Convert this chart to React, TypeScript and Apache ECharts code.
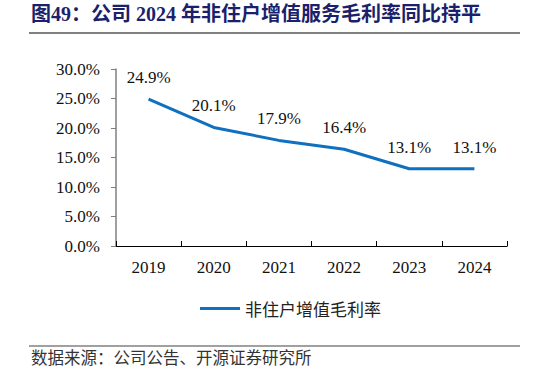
import React, { useEffect, useRef } from "react";
import * as echarts from "echarts";

const categories = ["2019", "2020", "2021", "2022", "2023", "2024"];
const seriesName = "非住户增值毛利率";
const values = [24.9, 20.1, 17.9, 16.4, 13.1, 13.1];
const titleText = "图49：公司 2024 年非住户增值服务毛利率同比持平";
const sourceText = "数据来源：公司公告、开源证券研究所";

const serif = "'Liberation Serif', 'Times New Roman', 'Noto Sans CJK SC', serif";
const cjk = "'Noto Sans CJK SC', sans-serif";

export default function App() {
  const ref = useRef<HTMLDivElement>(null);
  useEffect(() => {
    const chart = echarts.init(ref.current!, null, { renderer: "svg" });
    chart.setOption({
      animation: false,
      backgroundColor: "#ffffff",
      grid: { left: 116, right: 39, top: 69, bottom: 131 },
      graphic: [
        {
          type: "text",
          left: 31,
          top: 4,
          style: {
            text: titleText,
            font: "bold 20px 'Liberation Serif', 'Noto Sans CJK SC', serif",
            fill: "#1c1f6b",
          },
        },
        {
          type: "line",
          shape: { x1: 29, y1: 33, x2: 520, y2: 33 },
          style: { stroke: "#808080", lineWidth: 2 },
        },
        {
          type: "line",
          shape: { x1: 29, y1: 346, x2: 520, y2: 346 },
          style: { stroke: "#808080", lineWidth: 1.5 },
        },
        {
          type: "text",
          left: 31,
          top: 349,
          style: {
            text: sourceText,
            font: "16.5px " + cjk,
            fill: "#333",
          },
        },
      ],
      legend: {
        data: [seriesName],
        left: 195,
        top: 295,
        itemWidth: 40,
        itemHeight: 3,
        itemGap: 5,
        icon: "rect",
        textStyle: { fontFamily: cjk, fontSize: 17, color: "#222" },
      },
      xAxis: {
        type: "category",
        data: categories,
        boundaryGap: true,
        axisLine: { lineStyle: { color: "#000", width: 1.2 } },
        axisTick: { show: true, inside: true, length: 5, alignWithLabel: false, lineStyle: { color: "#000" } },
        axisLabel: { fontFamily: serif, fontSize: 17, color: "#111", margin: 13 },
        splitLine: { show: false },
      },
      yAxis: {
        type: "value",
        min: 0,
        max: 30,
        interval: 5,
        axisLine: { show: true, lineStyle: { color: "#7f7f7f", width: 1.5 } },
        axisTick: { show: true, inside: false, length: 5, lineStyle: { color: "#7f7f7f" } },
        axisLabel: {
          fontFamily: serif,
          fontSize: 17,
          color: "#111",
          margin: 16,
          formatter: (v: number) => v.toFixed(1) + "%",
        },
        splitLine: { show: false },
      },
      series: [
        {
          name: seriesName,
          type: "line",
          data: values,
          symbol: "circle",
          symbolSize: 0,
          showSymbol: true,
          lineStyle: { color: "#0f70c0", width: 3 },
          itemStyle: { color: "#0f70c0" },
          label: {
            show: true,
            position: "top",
            distance: 13,
            fontFamily: serif,
            fontSize: 17,
            color: "#111",
            formatter: (p: any) => p.value.toFixed(1) + "%",
          },
        },
      ],
    });
    return () => chart.dispose();
  }, []);
  return <div ref={ref} style={{ width: 546, height: 377, position: "absolute", left: 0, top: 0 }} />;
}
